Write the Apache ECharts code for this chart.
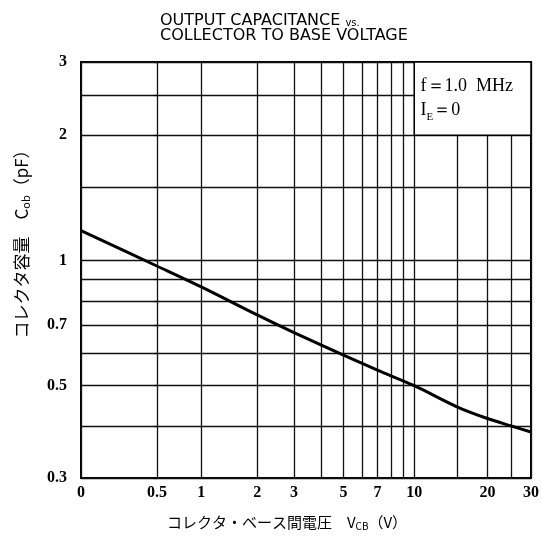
<!DOCTYPE html>
<html><head><meta charset="utf-8">
<script src="https://cdn.jsdelivr.net/npm/echarts@6/dist/echarts.min.js"></script>
<style>html,body{margin:0;padding:0;background:#fff}#c{width:542px;height:537px}</style>
</head><body><div id="c"></div>
<script>
// Data
const voltage = [0, 0.5, 1, 2, 3, 5, 7, 10, 15, 20, 25, 30];            // V_CB (V)
const capacitance = [1.18, 0.97, 0.864, 0.74, 0.671, 0.592, 0.545, 0.50, 0.445, 0.417, 0.40, 0.387]; // C_ob (pF)
const xGridValues = [0, 0.5, 1, 2, 3, 4, 5, 6, 7, 8, 9, 10, 15, 20, 25, 30];
const xLabelValues = [0, 0.5, 1, 2, 3, 5, 7, 10, 20, 30];
const yGridValues = [0.3, 0.4, 0.5, 0.6, 0.7, 0.8, 0.9, 1, 1.5, 2, 2.5, 3];
const yLabelValues = [0.3, 0.5, 0.7, 1, 2, 3];
const xOffset = 0.5; // horizontal axis is logarithmic in (V_CB + 0.5)

const fx = v => Math.log10(v + xOffset);
const fy = c => Math.log10(c);
const near = (a, b) => Math.abs(a - b) < 1e-6;

const chart = echarts.init(document.getElementById('c'), null, {renderer: 'canvas'});
const labelFont = {color: '#000', fontFamily: 'Liberation Serif', fontWeight: 'bold', fontSize: 16};

chart.setOption({
  animation: false,
  backgroundColor: '#fff',
  title: {
    left: 155, top: 8,
    text: '{t|OUTPUT CAPACITANCE }{v|vs.}\n{t|COLLECTOR TO BASE VOLTAGE}',
    textStyle: {
      fontWeight: 'normal',
      rich: {
        t: {fontFamily: 'DejaVu Sans', fontWeight: 'normal', fontSize: 16, color: '#000', lineHeight: 15},
        v: {fontFamily: 'DejaVu Sans', fontWeight: 'normal', fontSize: 10, color: '#000', lineHeight: 15, verticalAlign: 'bottom'}
      }
    }
  },
  grid: {left: 81, right: 10, top: 62, bottom: 59, show: true, borderColor: '#000', borderWidth: 2, backgroundColor: 'transparent'},
  xAxis: {
    type: 'value',
    min: fx(xGridValues[0]), max: fx(xGridValues[xGridValues.length - 1]),
    axisLine: {show: false},
    axisTick: {show: false, customValues: xGridValues.map(fx)},
    splitLine: {show: true, lineStyle: {color: '#111', width: 1.3}},
    axisLabel: {
      customValues: xLabelValues.map(fx),
      margin: 7,
      ...labelFont,
      formatter: val => { const v = xLabelValues.find(x => near(fx(x), val)); return v === undefined ? '' : String(v); }
    },
    name: '{a|コレクタ・ベース間電圧　V}{s|CB}{a|（V）}',
    nameLocation: 'middle',
    nameGap: 35,
    nameTextStyle: {
      padding: [0, 38, 0, 0],
      rich: {
        a: {fontFamily: 'Noto Sans CJK JP', fontSize: 15, color: '#000', lineHeight: 18},
        s: {fontFamily: 'Noto Sans CJK JP', fontSize: 10, color: '#000', lineHeight: 10, verticalAlign: 'bottom'}
      }
    }
  },
  yAxis: {
    type: 'value',
    min: fy(yGridValues[0]), max: fy(yGridValues[yGridValues.length - 1]),
    axisLine: {show: false},
    axisTick: {show: true, length: 3, lineStyle: {color: '#000', width: 1.2}, customValues: yGridValues.map(fy)},
    splitLine: {show: true, lineStyle: {color: '#111', width: 1.3}},
    axisLabel: {
      customValues: yLabelValues.map(fy),
      margin: 14,
      ...labelFont,
      formatter: val => { const v = yLabelValues.find(y => near(fy(y), val)); return v === undefined ? '' : String(v); }
    },
    name: '{a|コレクタ容量　C}{s|ob}{a|（pF）}',
    nameLocation: 'middle',
    nameRotate: 90,
    nameGap: 50,
    nameTextStyle: {
      padding: [0, 0, 0, 60],
      rich: {
        a: {fontFamily: 'Noto Sans CJK JP', fontSize: 17, color: '#000', lineHeight: 18},
        s: {fontFamily: 'Noto Sans CJK JP', fontSize: 11, color: '#000', lineHeight: 10, verticalAlign: 'bottom'}
      }
    }
  },
  series: [{
    type: 'line',
    data: voltage.map((v, i) => [fx(v), fy(capacitance[i])]),
    smooth: 0.3,
    symbol: 'none',
    lineStyle: {color: '#000', width: 3},
    markArea: {
      silent: true,
      itemStyle: {color: '#fff', borderColor: '#000', borderWidth: 1.5},
      label: {
        show: true, position: 'insideLeft', distance: 7,
        formatter: '{r|f＝1.0  MHz}\n{r|I}{sub|E}{r|＝0}',
        rich: {
          r: {fontFamily: 'Liberation Serif', fontSize: 18, color: '#000', lineHeight: 24},
          sub: {fontFamily: 'Liberation Serif', fontSize: 11, color: '#000', lineHeight: 12, verticalAlign: 'bottom'}
        }
      },
      data: [[{xAxis: fx(10), yAxis: fy(2)}, {xAxis: fx(30), yAxis: fy(3)}]]
    }
  }]
});
</script></body></html>
